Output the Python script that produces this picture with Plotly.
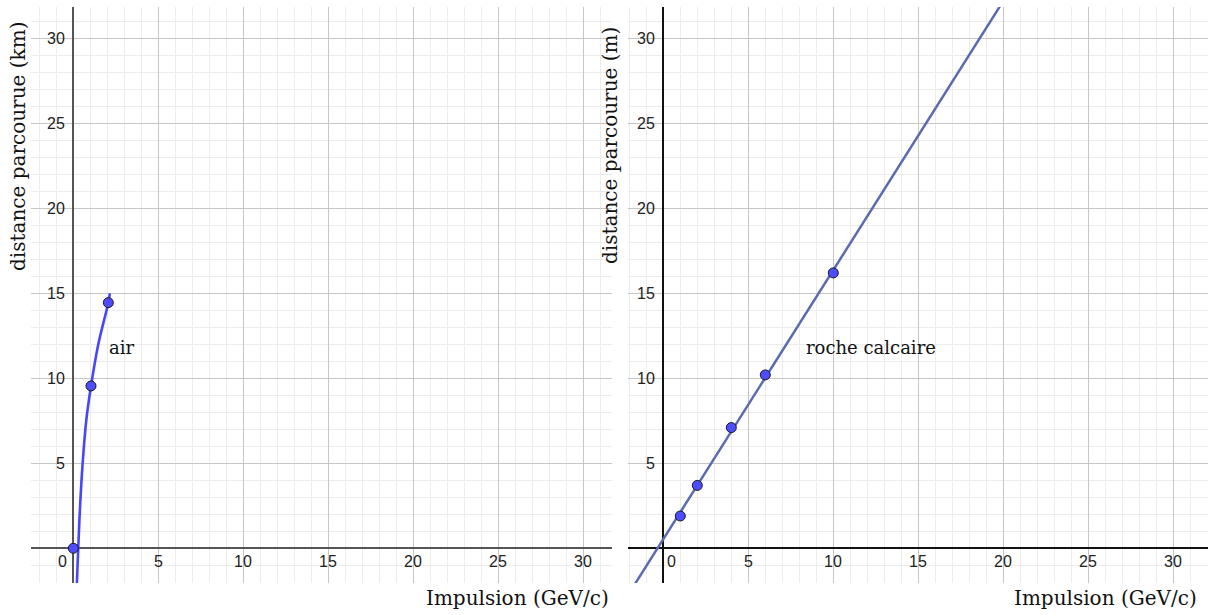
import plotly.graph_objects as go
import numpy as np

# ---------------- data ----------------
# left panel: air (distance in km)
air_p = [0.0, 1.04, 2.06]
air_d = [0.0, 9.55, 14.45]
# fitted curve
air_curve_p = [0.21, 0.29, 0.40, 0.55, 0.76, 1.04, 1.47, 2.06, 2.15]
air_curve_d = [-2.06, 0.0, 2.5, 5.0, 7.5, 9.53, 12.0, 14.45, 15.0]

# right panel: limestone (distance in m)
roche_p = [1, 2, 4, 6, 10]
roche_d = [1.9, 3.7, 7.1, 10.2, 16.2]

tick_vals = [5, 10, 15, 20, 25, 30]
tick_labels = ["5", "10", "15", "20", "25", "30"]

W, H = 1208, 615
SERIF = "DejaVu Serif"
SANS = "Liberation Sans"

fig = go.Figure()

# left curve
fig.add_trace(go.Scatter(x=air_curve_p, y=air_curve_d, mode="lines",
                         line=dict(color="#4646ff", width=2.6, shape="spline", smoothing=1.0),
                         xaxis="x", yaxis="y", hoverinfo="skip", showlegend=False))
fig.add_trace(go.Scatter(x=air_p, y=air_d, mode="markers",
                         marker=dict(size=10, color="#4d4dff", line=dict(color="#1a1a1a", width=1)),
                         xaxis="x", yaxis="y", showlegend=False, cliponaxis=False))

# right regression line
slope, intercept = np.polyfit(roche_p, roche_d, 1)
lx = np.array([-3.0, 34.0])
fig.add_trace(go.Scatter(x=lx, y=slope * lx + intercept, mode="lines",
                         line=dict(color="#5b6bb2", width=2.5),
                         xaxis="x2", yaxis="y2", hoverinfo="skip", showlegend=False))
fig.add_trace(go.Scatter(x=roche_p, y=roche_d, mode="markers",
                         marker=dict(size=10, color="#4d4dff", line=dict(color="#1a1a1a", width=1)),
                         xaxis="x2", yaxis="y2", showlegend=False))

def axis(domain, rng, anchor, zcolor):
    return dict(domain=domain, range=rng, anchor=anchor,
                tick0=0, dtick=5, showticklabels=False, ticks="",
                showgrid=True, gridcolor="#c6c6c6", gridwidth=1,
                minor=dict(tick0=0, dtick=1, showgrid=True, gridcolor="#ececec", gridwidth=1),
                zeroline=True, zerolinecolor=zcolor, zerolinewidth=1.5,
                showline=False, fixedrange=True)

ydom = [1 - 583 / H, 1 - 7 / H]
yrng = [-(583 - 548.3) / 17, (548.3 - 7) / 17]

fig.update_layout(
    width=W, height=H, margin=dict(l=0, r=0, t=0, b=0),
    paper_bgcolor="white", plot_bgcolor="white",
    xaxis=axis([31 / W, 612 / W], [-(73.3 - 31) / 17, (612 - 73.3) / 17], "y", "#555555"),
    yaxis=axis(ydom, yrng, "x", "#555555"),
    xaxis2=axis([628 / W, 1.0], [-(663.3 - 628) / 17, (1208 - 663.3) / 17], "y2", "#111111"),
    yaxis2=axis(ydom, yrng, "x2", "#111111"),
)

ann = []
tickfont = dict(family=SANS, size=16, color="#222222")
for xr, yr in (("x", "y"), ("x2", "y2")):
    for v, t in zip(tick_vals, tick_labels):
        ann.append(dict(x=v, y=0, xref=xr, yref=yr, text=t, showarrow=False,
                        xanchor="center", yanchor="middle", yshift=-13, font=tickfont))
        ann.append(dict(x=0, y=v, xref=xr, yref=yr, text=t, showarrow=False,
                        xanchor="right", yanchor="middle", xshift=-6, font=tickfont))
# origin labels
ann.append(dict(x=0, y=0, xref="x", yref="y", text="0", showarrow=False,
                xanchor="center", yanchor="middle", xshift=-11, yshift=-13, font=tickfont))
ann.append(dict(x=0, y=0, xref="x2", yref="y2", text="0", showarrow=False,
                xanchor="center", yanchor="middle", xshift=8, yshift=-13, font=tickfont))

titlefont = dict(family=SERIF, size=20, color="#111111")
ann.append(dict(x=517 / W, y=1 - 598 / H, xref="paper", yref="paper", text="Impulsion (GeV/c)",
                showarrow=False, xanchor="center", yanchor="middle", font=titlefont))
ann.append(dict(x=1105 / W, y=1 - 598 / H, xref="paper", yref="paper", text="Impulsion (GeV/c)",
                showarrow=False, xanchor="center", yanchor="middle", font=titlefont))
ann.append(dict(x=18 / W, y=1 - 147 / H, xref="paper", yref="paper", text="distance parcourue (km)",
                showarrow=False, textangle=-90, xanchor="center", yanchor="middle", font=titlefont))
ann.append(dict(x=610 / W, y=1 - 146 / H, xref="paper", yref="paper", text="distance parcourue (m)",
                showarrow=False, textangle=-90, xanchor="center", yanchor="middle", font=titlefont))

labelfont = dict(family=SERIF, size=18, color="#111111")
ann.append(dict(x=2.0, y=(548.3 - 347) / 17, xref="x", yref="y", text="air", showarrow=False,
                xanchor="left", yanchor="middle", font=labelfont))
ann.append(dict(x=8.3, y=(548.3 - 347) / 17, xref="x2", yref="y2", text="roche calcaire", showarrow=False,
                xanchor="left", yanchor="middle", font=labelfont))

fig.update_layout(annotations=ann)
fig.write_html("out.html")
